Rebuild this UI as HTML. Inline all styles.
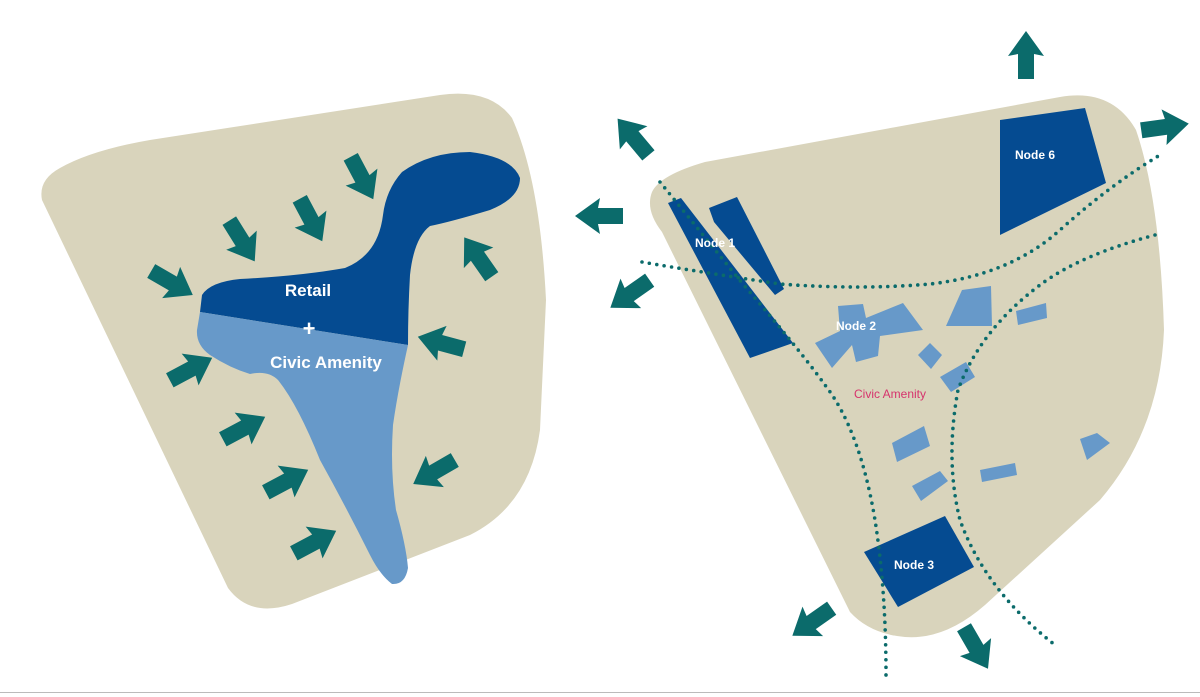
<!DOCTYPE html>
<html><head><style>
html,body{margin:0;padding:0;background:#fff;}
svg{display:block;font-family:"Liberation Sans",sans-serif;}
</style></head><body>
<svg width="1200" height="697" viewBox="0 0 1200 697" xmlns="http://www.w3.org/2000/svg">
<defs>
<polygon id="ar" points="-24,-8 1,-8 -1,-18 24,0 -1,18 1,8 -24,8" fill="#0b6b6b"/>
</defs>
<!-- left beige -->
<path d="M60,168 Q38,180 42,200 L228,588 Q250,618 292,604 L470,535 Q530,505 540,430 L546,300 Q540,180 512,118 Q490,88 440,95 L150,140 Q92,150 60,168 Z" fill="#d9d4bc"/>
<!-- retail dark -->
<path d="M200,312 L202,295 Q210,282 240,279 Q300,276 345,268 Q378,255 383,215 Q386,190 402,172 Q430,152 470,152 Q512,157 520,178 Q520,198 490,210 Q450,222 430,226 Q414,238 410,275 Q408,310 408,345 Z" fill="#054b91"/>
<!-- civic light -->
<path d="M200,312 L408,345 Q398,390 393,425 Q390,470 396,510 Q406,545 408,568 Q405,585 392,584 Q380,575 370,555 Q345,505 320,460 Q298,405 278,380 Q268,370 250,374 Q230,368 210,355 Q196,345 197,330 Z" fill="#6799c9"/>
<text x="308" y="296" fill="#fff" font-size="17" font-weight="bold" text-anchor="middle">Retail</text>
<text x="309" y="336" fill="#fff" font-size="22" font-weight="bold" text-anchor="middle">+</text>
<text x="326" y="368" fill="#fff" font-size="17" font-weight="bold" text-anchor="middle">Civic Amenity</text>
<!-- left arrows -->
<use href="#ar" transform="translate(362,178) rotate(62)"/>
<use href="#ar" transform="translate(311,220) rotate(62)"/>
<use href="#ar" transform="translate(242,241) rotate(58)"/>
<use href="#ar" transform="translate(172,283) rotate(30)"/>
<use href="#ar" transform="translate(191,369) rotate(-28)"/>
<use href="#ar" transform="translate(244,428) rotate(-28)"/>
<use href="#ar" transform="translate(287,481) rotate(-28)"/>
<use href="#ar" transform="translate(315,542) rotate(-28)"/>
<use href="#ar" transform="translate(434,472) rotate(150)"/>
<use href="#ar" transform="translate(441,343) rotate(195)"/>
<use href="#ar" transform="translate(478,257) rotate(-125)"/>
<!-- right beige -->
<path d="M652,192 Q660,175 705,162 L1060,97 Q1112,88 1136,130 Q1160,200 1164,330 Q1160,430 1100,500 L985,605 Q945,640 905,637 Q870,634 850,612 L662,232 Q645,210 652,192 Z" fill="#d9d4bc"/>
<!-- dark nodes -->
<polygon points="668,203 681,198 793,343 750,358" fill="#054b91"/>
<polygon points="709,208 737,197 784,289 775,295 714,222" fill="#054b91"/>
<polygon points="1000,120 1085,108 1106,183 1000,235" fill="#054b91"/>
<polygon points="864,552 945,516 974,567 898,607" fill="#054b91"/>
<!-- light blocks -->
<polygon points="838,306 863,304 866,318 903,303 923,330 880,336 878,356 856,362 852,345 832,368 815,343 840,331" fill="#6799c9"/>
<polygon points="946,326 962,290 991,286 992,326" fill="#6799c9"/>
<polygon points="1016,311 1046,303 1047,318 1018,325" fill="#6799c9"/>
<polygon points="918,355 930,343 942,355 931,369" fill="#6799c9"/>
<polygon points="940,377 966,362 975,377 951,392" fill="#6799c9"/>
<polygon points="892,443 924,426 930,446 897,462" fill="#6799c9"/>
<polygon points="912,486 940,471 948,481 921,501" fill="#6799c9"/>
<polygon points="980,470 1015,463 1017,475 982,482" fill="#6799c9"/>
<polygon points="1080,439 1097,433 1110,443 1087,460" fill="#6799c9"/>
<!-- dotted paths -->
<g fill="none" stroke="#0b6b6b" stroke-width="3.6" stroke-linecap="round" stroke-dasharray="0 7.5">
<path d="M660,182 L742,283 Q800,350 825,385 Q860,430 875,520 Q886,590 886,675"/>
<path d="M642,262 Q700,272 780,284 Q860,290 930,284 Q1010,275 1060,230 Q1110,185 1160,155"/>
<path d="M1155,235 Q1080,255 1040,285 Q980,330 958,390 Q945,460 960,520 Q985,590 1055,645"/>
</g>
<text x="695" y="247" fill="#fff" font-size="12" font-weight="bold">Node 1</text>
<text x="836" y="330" fill="#fff" font-size="12" font-weight="bold">Node 2</text>
<text x="1015" y="159" fill="#fff" font-size="12" font-weight="bold">Node 6</text>
<text x="894" y="569" fill="#fff" font-size="12" font-weight="bold">Node 3</text>
<text x="890" y="398" fill="#d6336c" font-size="12" text-anchor="middle">Civic Amenity</text>
<!-- right arrows -->
<use href="#ar" transform="translate(1026,55) rotate(-90)"/>
<use href="#ar" transform="translate(1165,127) rotate(-8)"/>
<use href="#ar" transform="translate(633,137) rotate(-130)"/>
<use href="#ar" transform="translate(599,216) rotate(180)"/>
<use href="#ar" transform="translate(630,294) rotate(145)"/>
<use href="#ar" transform="translate(812,622) rotate(145)"/>
<use href="#ar" transform="translate(976,648) rotate(60)"/>
<!-- bottom rule -->
<rect x="0" y="692" width="1200" height="1" fill="#bbb"/>
</svg>
</body></html>
